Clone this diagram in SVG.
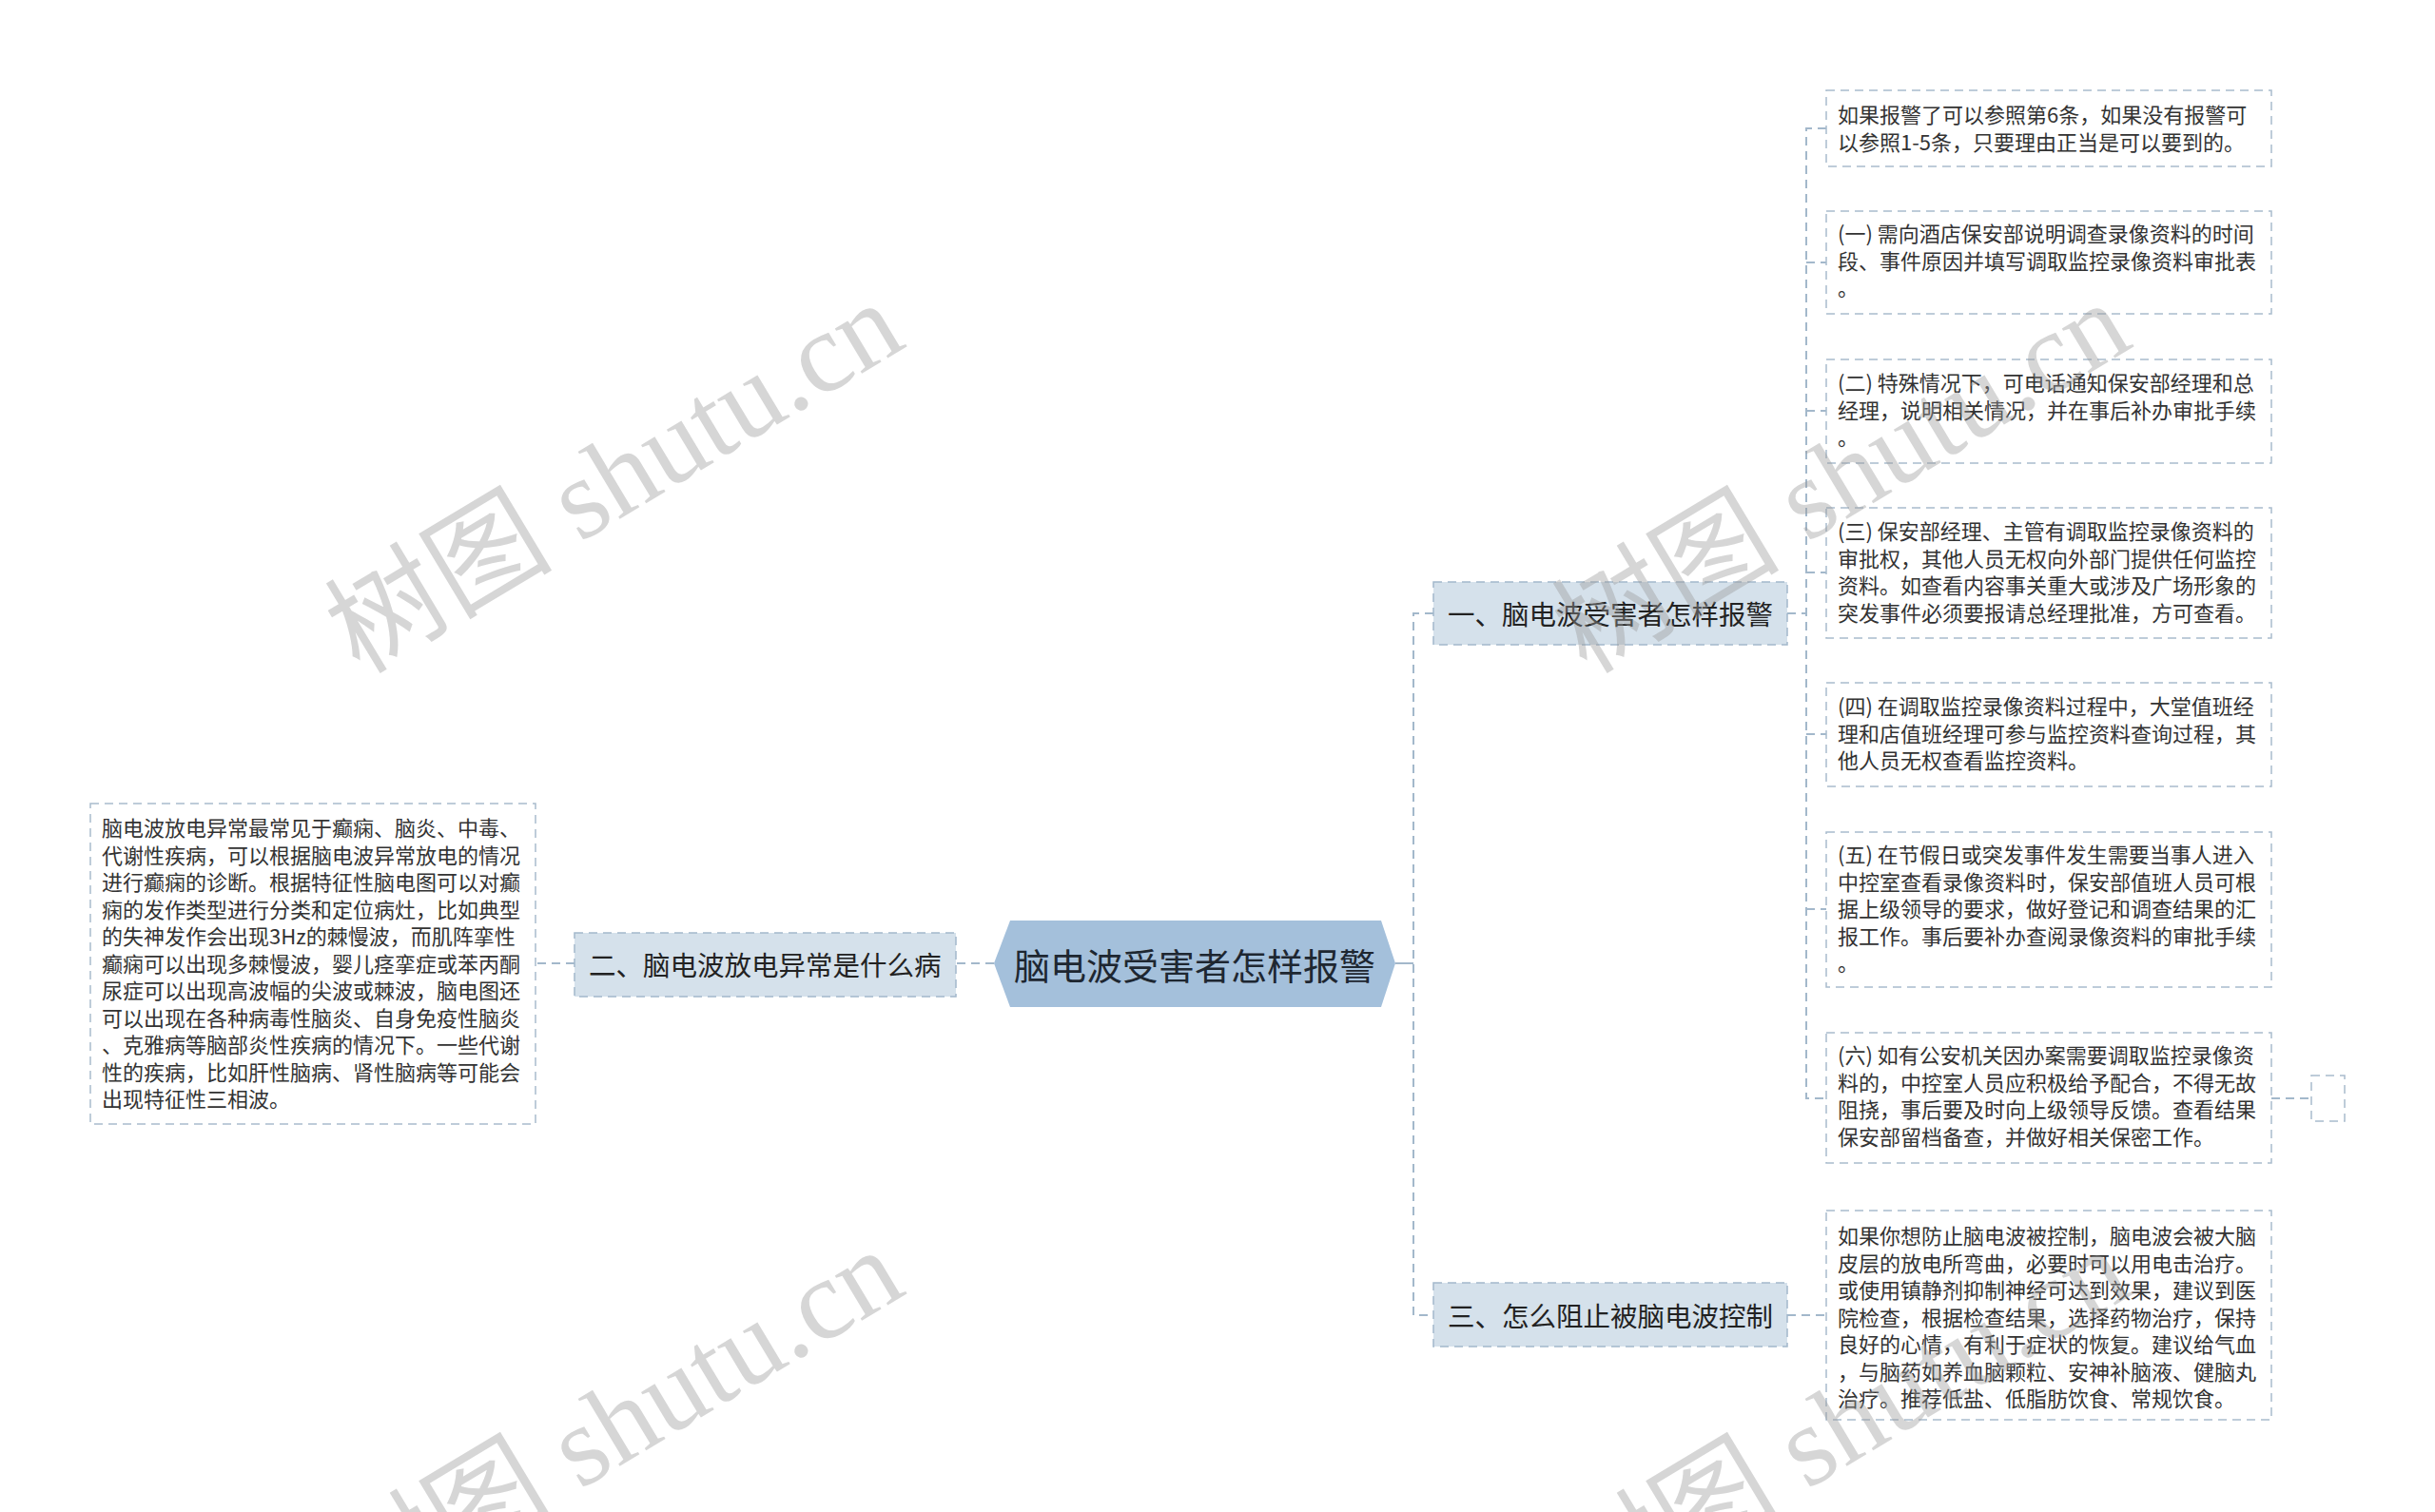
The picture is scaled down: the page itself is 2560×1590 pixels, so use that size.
<svg xmlns="http://www.w3.org/2000/svg" width="2560" height="1590" viewBox="0 0 2560 1590">
<defs>
<style>
.conn{fill:none;stroke:#a3b8cb;stroke-width:2;stroke-dasharray:9 6}
.solid{fill:none;stroke:#a3b8cb;stroke-width:2}
.leaf rect{fill:#ffffff;stroke:#a9bccd;stroke-width:1.5;stroke-dasharray:9 6}
.lvl1 rect{fill:#d5e1eb;stroke:#a3b8cb;stroke-width:1.5;stroke-dasharray:9 6}
.t22{font-family:"Noto Sans CJK SC","Noto Sans",sans-serif;font-size:22px;fill:#333333;dominant-baseline:central}
.t29{font-family:"Noto Sans CJK SC","Noto Sans",sans-serif;font-size:28.5px;fill:#222222;dominant-baseline:central}
.t38{font-family:"Noto Sans CJK SC","Noto Sans",sans-serif;font-size:38px;fill:#1e2731;dominant-baseline:central;text-anchor:middle}
.wm{font-family:"Liberation Serif","Noto Sans CJK SC",serif;font-size:120px;fill:#999999;fill-opacity:0.4}
</style>
</defs>
<rect width="2560" height="1590" fill="#ffffff"/>

<g id="connectors">
<path class="solid" d="M1467 1013 H1486"/>
<path class="conn" d="M1507 645 H1486 V1383 H1507"/>
<path class="conn" d="M1879 645 H1899"/>
<path class="conn" d="M1920 135 H1899 V1155 H1920"/>
<path class="conn" d="M1899 276 H1920"/>
<path class="conn" d="M1899 432 H1920"/>
<path class="conn" d="M1899 602 H1920"/>
<path class="conn" d="M1899 772 H1920"/>
<path class="conn" d="M1899 956 H1920"/>
<path class="conn" d="M1879 1383 H1920"/>
<path class="conn" d="M2388 1155 H2430"/>
<path class="conn" d="M1045 1013 H1005"/>
<path class="conn" d="M604 1013 H563"/>
</g>

<g id="root">
<polygon points="1045,1013 1062,968 1452,968 1467,1013 1452,1059 1062,1059" fill="#a4c0db"/>
<text class="t38" x="1256" y="1013">脑电波受害者怎样报警</text>
</g>

<g id="n1" class="lvl1">
<rect x="1507" y="612" width="372" height="66"/>
<text class="t29" x="1522" y="644">一、脑电波受害者怎样报警</text>
</g>
<g id="n2" class="lvl1">
<rect x="604" y="981" width="401" height="67"/>
<text class="t29" x="619" y="1013">二、脑电波放电异常是什么病</text>
</g>
<g id="n3" class="lvl1">
<rect x="1507" y="1349" width="372" height="67"/>
<text class="t29" x="1522" y="1382">三、怎么阻止被脑电波控制</text>
</g>

<g id="leaf-left" class="leaf">
<rect x="95" y="845" width="468" height="337"/>
<text class="t22">
<tspan x="107" y="869">脑电波放电异常最常见于癫痫、脑炎、中毒、</tspan>
<tspan x="107" y="897.5">代谢性疾病，可以根据脑电波异常放电的情况</tspan>
<tspan x="107" y="926">进行癫痫的诊断。根据特征性脑电图可以对癫</tspan>
<tspan x="107" y="954.5">痫的发作类型进行分类和定位病灶，比如典型</tspan>
<tspan x="107" y="983">的失神发作会出现3Hz的棘慢波，而肌阵挛性</tspan>
<tspan x="107" y="1011.5">癫痫可以出现多棘慢波，婴儿痉挛症或苯丙酮</tspan>
<tspan x="107" y="1040">尿症可以出现高波幅的尖波或棘波，脑电图还</tspan>
<tspan x="107" y="1068.5">可以出现在各种病毒性脑炎、自身免疫性脑炎</tspan>
<tspan x="107" y="1097">、克雅病等脑部炎性疾病的情况下。一些代谢</tspan>
<tspan x="107" y="1125.5">性的疾病，比如肝性脑病、肾性脑病等可能会</tspan>
<tspan x="107" y="1154">出现特征性三相波。</tspan>
</text>
</g>

<g id="leaf0" class="leaf">
<rect x="1920" y="95" width="468" height="80"/>
<text class="t22">
<tspan x="1932" y="119">如果报警了可以参照第6条，如果没有报警可</tspan>
<tspan x="1932" y="147.5">以参照1-5条，只要理由正当是可以要到的。</tspan>
</text>
</g>

<g id="leaf1" class="leaf">
<rect x="1920" y="222" width="468" height="108"/>
<text class="t22">
<tspan x="1932" y="244">(一) 需向酒店保安部说明调查录像资料的时间</tspan>
<tspan x="1932" y="272.5">段、事件原因并填写调取监控录像资料审批表</tspan>
<tspan x="1932" y="301">。</tspan>
</text>
</g>

<g id="leaf2" class="leaf">
<rect x="1920" y="378" width="468" height="109"/>
<text class="t22">
<tspan x="1932" y="401">(二) 特殊情况下，可电话通知保安部经理和总</tspan>
<tspan x="1932" y="429.5">经理，说明相关情况，并在事后补办审批手续</tspan>
<tspan x="1932" y="458">。</tspan>
</text>
</g>

<g id="leaf3" class="leaf">
<rect x="1920" y="534" width="468" height="137"/>
<text class="t22">
<tspan x="1932" y="557">(三) 保安部经理、主管有调取监控录像资料的</tspan>
<tspan x="1932" y="585.5">审批权，其他人员无权向外部门提供任何监控</tspan>
<tspan x="1932" y="614">资料。如查看内容事关重大或涉及广场形象的</tspan>
<tspan x="1932" y="642.5">突发事件必须要报请总经理批准，方可查看。</tspan>
</text>
</g>

<g id="leaf4" class="leaf">
<rect x="1920" y="718" width="468" height="109"/>
<text class="t22">
<tspan x="1932" y="741">(四) 在调取监控录像资料过程中，大堂值班经</tspan>
<tspan x="1932" y="769.5">理和店值班经理可参与监控资料查询过程，其</tspan>
<tspan x="1932" y="798">他人员无权查看监控资料。</tspan>
</text>
</g>

<g id="leaf5" class="leaf">
<rect x="1920" y="875" width="468" height="163"/>
<text class="t22">
<tspan x="1932" y="897">(五) 在节假日或突发事件发生需要当事人进入</tspan>
<tspan x="1932" y="925.5">中控室查看录像资料时，保安部值班人员可根</tspan>
<tspan x="1932" y="954">据上级领导的要求，做好登记和调查结果的汇</tspan>
<tspan x="1932" y="982.5">报工作。事后要补办查阅录像资料的审批手续</tspan>
<tspan x="1932" y="1011">。</tspan>
</text>
</g>

<g id="leaf6" class="leaf">
<rect x="1920" y="1086" width="468" height="137"/>
<text class="t22">
<tspan x="1932" y="1108">(六) 如有公安机关因办案需要调取监控录像资</tspan>
<tspan x="1932" y="1136.5">料的，中控室人员应积极给予配合，不得无故</tspan>
<tspan x="1932" y="1165">阻挠，事后要及时向上级领导反馈。查看结果</tspan>
<tspan x="1932" y="1193.5">保安部留档备查，并做好相关保密工作。</tspan>
</text>
</g>

<g id="leaf6-child" class="leaf">
<rect x="2430" y="1131" width="35" height="48"/>
</g>

<g id="leaf7" class="leaf">
<rect x="1920" y="1273" width="468" height="220"/>
<text class="t22">
<tspan x="1932" y="1298">如果你想防止脑电波被控制，脑电波会被大脑</tspan>
<tspan x="1932" y="1326.5">皮层的放电所弯曲，必要时可以用电击治疗。</tspan>
<tspan x="1932" y="1355">或使用镇静剂抑制神经可达到效果，建议到医</tspan>
<tspan x="1932" y="1383.5">院检查，根据检查结果，选择药物治疗，保持</tspan>
<tspan x="1932" y="1412">良好的心情，有利于症状的恢复。建议给气血</tspan>
<tspan x="1932" y="1440.5">，与脑药如养血脑颗粒、安神补脑液、健脑丸</tspan>
<tspan x="1932" y="1469">治疗。推荐低盐、低脂肪饮食、常规饮食。</tspan>
</text>
</g>

<g id="watermarks">
<text class="wm" transform="translate(378,710) rotate(-31)">树图 shutu.cn</text>
<text class="wm" transform="translate(1668,710) rotate(-31)">树图 shutu.cn</text>
<text class="wm" transform="translate(378,1706) rotate(-31)">树图 shutu.cn</text>
<text class="wm" transform="translate(1668,1706) rotate(-31)">树图 shutu.cn</text>
</g>
</svg>
